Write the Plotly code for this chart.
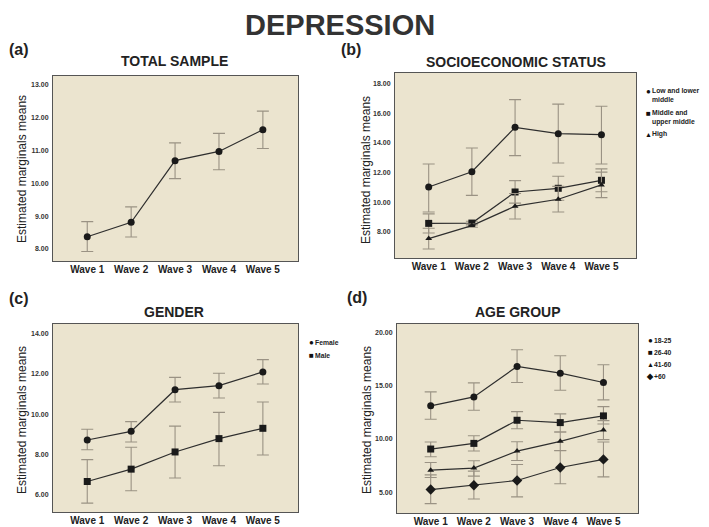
import plotly.graph_objects as go

waves = ["Wave 1", "Wave 2", "Wave 3", "Wave 4", "Wave 5"]
xpos = [1, 2, 3, 4, 5]

# (a) Total sample
total_mean = [8.37, 8.81, 10.69, 10.97, 11.63]
total_hi = [8.83, 9.28, 11.23, 11.52, 12.20]
total_lo = [7.92, 8.36, 10.14, 10.41, 11.06]

# (b) Socioeconomic status
ses_low_mean = [11.02, 12.05, 15.05, 14.62, 14.55]
ses_low_hi = [12.57, 13.65, 16.92, 16.62, 16.47]
ses_low_lo = [9.33, 10.45, 13.14, 12.64, 12.57]
ses_mid_mean = [8.56, 8.58, 10.68, 10.93, 11.47]
ses_mid_hi = [9.20, 8.70, 11.45, 11.74, 12.24]
ses_mid_lo = [7.91, 8.46, 9.93, 10.12, 10.70]
ses_high_mean = [7.53, 8.41, 9.72, 10.19, 11.16]
ses_high_hi = [8.23, 8.52, 10.58, 11.06, 12.02]
ses_high_lo = [6.83, 8.30, 8.86, 9.33, 10.30]

# (c) Gender
fem_mean = [8.72, 9.15, 11.21, 11.41, 12.09]
fem_hi = [9.25, 9.63, 11.82, 12.02, 12.70]
fem_lo = [8.24, 8.62, 10.60, 10.80, 11.49]
male_mean = [6.67, 7.28, 8.13, 8.79, 9.30]
male_hi = [7.75, 8.36, 9.41, 10.09, 10.60]
male_lo = [5.60, 6.21, 6.84, 7.45, 7.98]

# (d) Age group
a1825_mean = [13.10, 13.94, 16.80, 16.17, 15.29]
a1825_hi = [14.41, 15.26, 18.37, 17.80, 16.96]
a1825_lo = [11.84, 12.69, 15.29, 14.57, 13.66]
a2640_mean = [9.05, 9.58, 11.75, 11.53, 12.16]
a2640_hi = [9.71, 10.30, 12.56, 12.35, 13.03]
a2640_lo = [8.33, 8.86, 10.96, 10.65, 11.40]
a4160_mean = [7.07, 7.26, 8.86, 9.77, 10.84]
a4160_hi = [7.79, 7.95, 9.74, 10.65, 11.72]
a4160_lo = [6.38, 6.51, 7.98, 8.89, 9.93]
a60_mean = [5.25, 5.66, 6.10, 7.32, 8.08]
a60_hi = [6.63, 6.98, 7.60, 8.92, 9.71]
a60_lo = [3.93, 4.37, 4.56, 5.79, 6.44]

# page body adds an 8px margin, so the figure is sized to fill the rest
OFF = 8
W, H = 709 - OFF, 527 - OFF
BG = "#EBE4CF"
LINE = "#2e2e2e"
ERR = "#9a9284"
FONT = "Liberation Sans, Arial, sans-serif"

fig = go.Figure()

def px_x(p):
    return (p - OFF) / W

def px_y(p):
    return 1 - (p - OFF) / H

panels = {
    "a": dict(xd=[53, 298], yd=[76, 261], yr=[7.63, 13.27], dt=1.0, t0=8),
    "b": dict(xd=[395, 636], yd=[73, 258], yr=[6.22, 18.72], dt=2.0, t0=8),
    "c": dict(xd=[53, 298], yd=[324, 512], yr=[5.16, 14.46], dt=2.0, t0=6),
    "d": dict(xd=[397, 638], yd=[324, 513], yr=[3.05, 20.78], dt=5.0, t0=5),
}
axis_ids = {"a": ("x", "y", "xaxis", "yaxis"), "b": ("x2", "y2", "xaxis2", "yaxis2"),
            "c": ("x3", "y3", "xaxis3", "yaxis3"), "d": ("x4", "y4", "xaxis4", "yaxis4")}

def add_series(panel, mean, hi, lo, symbol, size):
    xa, ya, _, _ = axis_ids[panel]
    fig.add_trace(go.Scatter(
        x=xpos, y=mean, xaxis=xa, yaxis=ya, mode="lines+markers",
        line=dict(color=LINE, width=1.2),
        marker=dict(symbol=symbol, size=size, color="#1a1a1a"),
        error_y=dict(type="data", symmetric=False,
                     array=[h - m for h, m in zip(hi, mean)],
                     arrayminus=[m - l for m, l in zip(mean, lo)],
                     color=ERR, thickness=1.1, width=6),
        showlegend=False))

add_series("a", total_mean, total_hi, total_lo, "circle", 7)
add_series("b", ses_low_mean, ses_low_hi, ses_low_lo, "circle", 7)
add_series("b", ses_mid_mean, ses_mid_hi, ses_mid_lo, "square", 7)
add_series("b", ses_high_mean, ses_high_hi, ses_high_lo, "triangle-up", 6)
add_series("c", fem_mean, fem_hi, fem_lo, "circle", 7)
add_series("c", male_mean, male_hi, male_lo, "square", 7)
add_series("d", a1825_mean, a1825_hi, a1825_lo, "circle", 7)
add_series("d", a2640_mean, a2640_hi, a2640_lo, "square", 7)
add_series("d", a4160_mean, a4160_hi, a4160_lo, "triangle-up", 6)
add_series("d", a60_mean, a60_hi, a60_lo, "diamond", 8)

layout = dict(
    width=W, height=H, margin=dict(l=0, r=0, t=0, b=0),
    paper_bgcolor="white", plot_bgcolor=BG, showlegend=False,
    font=dict(family=FONT, color="#222"),
)
for key, p in panels.items():
    xa_name, ya_name, xk, yk = axis_ids[key]
    layout[xk] = dict(
        domain=[px_x(p["xd"][0]), px_x(p["xd"][1])], range=[0.22, 5.8],
        anchor=ya_name, tickmode="array", tickvals=xpos, ticktext=waves,
        showgrid=False, zeroline=False, showline=True, mirror=True,
        linecolor="#555", linewidth=1, ticks="", ticklabelstandoff=-1,
        tickfont=dict(size=10, family=FONT, color="#222", weight="bold"))
    layout[yk] = dict(
        domain=[px_y(p["yd"][1]), px_y(p["yd"][0])], range=p["yr"],
        anchor=xa_name, tick0=p["t0"], dtick=p["dt"], tickformat=".2f",
        showgrid=False, zeroline=False, showline=True, mirror=True,
        linecolor="#555", linewidth=1, ticks="", ticklabelstandoff=2,
        tickfont=dict(size=7, family=FONT, color="#333", weight="bold"))

fig.update_layout(**layout)

ann = []
def text(x, y, s, size, bold=True, angle=0, xanchor="center", yanchor="middle", color="#222"):
    ann.append(dict(x=px_x(x), y=px_y(y), xref="paper", yref="paper", text=s,
                    showarrow=False, textangle=angle, xanchor=xanchor, yanchor=yanchor,
                    borderpad=0,
                    font=dict(size=size, family=FONT, color=color,
                              weight="bold" if bold else "normal")))

text(340, 8, "DEPRESSION", 29, yanchor="top", color="#333")
text(8, 49, "(a)", 16, xanchor="left")
text(351, 49, "(b)", 16)
text(8, 298, "(c)", 16, xanchor="left")
text(357, 297, "(d)", 16)
text(174, 61, "TOTAL SAMPLE", 14)
text(516, 62, "SOCIOECONOMIC STATUS", 14)
text(174, 312, "GENDER", 14)
text(518, 312, "AGE GROUP", 14)
for (x, y) in [(22, 169), (366, 170), (22, 420), (367, 420)]:
    text(x, y, "Estimated marginals means", 12, bold=False, angle=-90)

def legend_item(x, y, sym, label, symsize=8):
    text(x, y, sym, symsize, xanchor="center", color="#111")
    two = "<br>" in label
    ann.append(dict(x=px_x(x + 3), y=px_y(y), xref="paper", yref="paper", text=label,
                    showarrow=False, xanchor="left", yanchor="top" if two else "middle",
                    align="left", yshift=5 if two else 0, borderpad=0,
                    font=dict(size=6.8, family=FONT, color="#222", weight="bold")))

legend_item(648, 91, "●", "Low and lower<br>middle")
legend_item(648, 113, "■", "Middle and<br>upper middle")
legend_item(648, 134, "▲", "High", 7)
legend_item(311, 342, "●", "Female")
legend_item(311, 355, "■", "Male")
legend_item(650, 340, "●", "18-25")
legend_item(650, 352, "■", "26-40")
legend_item(650, 364, "▲", "41-60", 7)
legend_item(650, 376, "◆", "+60")

fig.update_layout(annotations=ann)
fig.write_html("out.html")
